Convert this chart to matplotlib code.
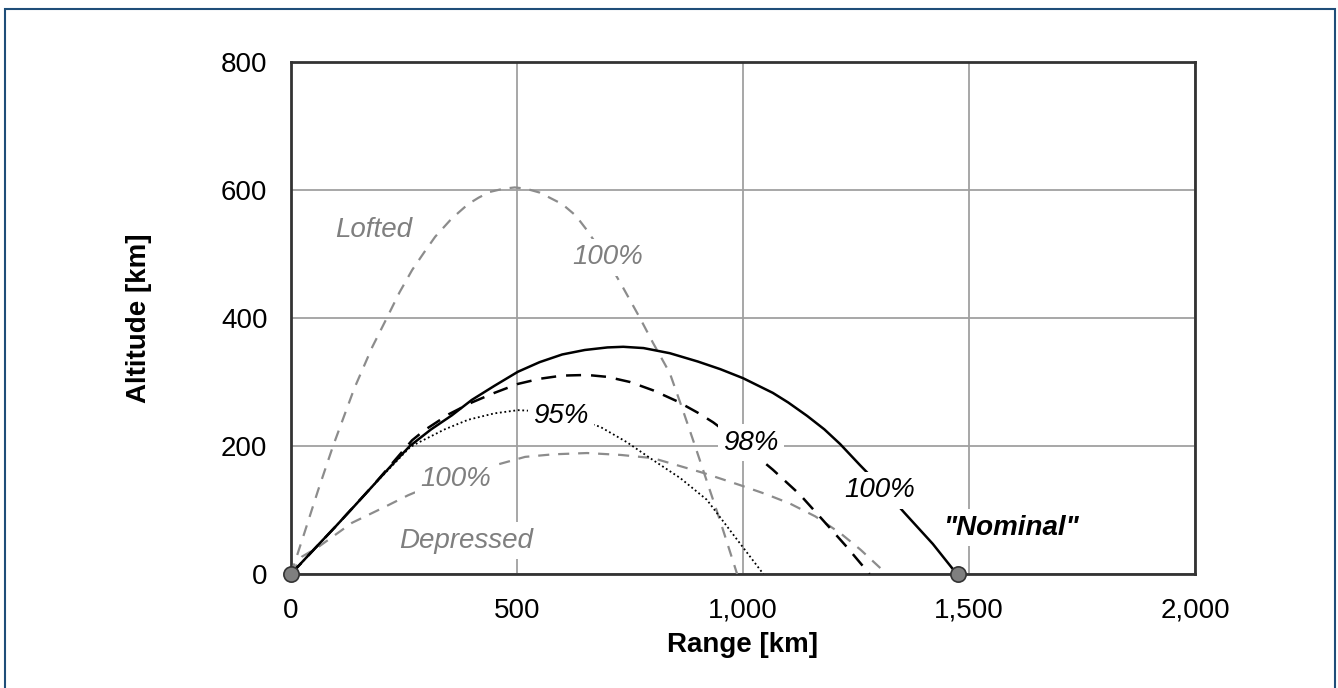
import matplotlib
matplotlib.use("Agg")
import matplotlib.pyplot as plt
from matplotlib.patches import Rectangle

plt.rcParams['font.family'] = ['Liberation Sans', 'DejaVu Sans']

# trajectories: range [km], altitude [km]
nominal_x = [0, 50, 97, 140, 180, 220, 263, 310, 356, 400, 450, 502, 550, 600, 650, 700,
             735, 780, 838, 900, 950, 1000, 1066, 1100, 1142, 1180, 1215, 1259, 1310,
             1358, 1420, 1473]
nominal_y = [0, 38, 73, 106, 137, 168, 200, 226, 248, 272, 294, 316, 331, 343, 350, 354,
             355, 353, 345, 332, 320, 306, 283, 268, 247, 226, 203, 170, 133,
             95, 47, 0]

p98_x = [0, 97, 180, 268, 296, 350, 400, 450, 502, 550, 600, 655, 700, 750, 801, 854,
         900, 934, 1000, 1066, 1126, 1177, 1230, 1280]
p98_y = [0, 73, 137, 209, 225, 250, 268, 283, 297, 305, 310, 311, 308, 300, 287, 270,
         252, 237, 202, 163, 124, 84, 42, 0]

p95_x = [0, 97, 180, 263, 281, 340, 392, 450, 502, 560, 620, 684, 743, 801, 861, 920,
         978, 1045]
p95_y = [0, 73, 137, 198, 205, 226, 241, 251, 256, 254, 244, 230, 206, 178, 150, 116,
         62, 0]

lofted_x = [0, 30, 60, 93, 140, 180, 212, 240, 268, 295, 319, 355, 392, 415, 440, 470,
            495, 520, 550, 600, 630, 655, 700, 735, 772, 801, 838, 866, 894, 920, 949, 987]
lofted_y = [0, 65, 131, 200, 290, 355, 400, 440, 475, 503, 527, 555, 578, 588, 597, 602,
            604, 602, 596, 578, 560, 537, 490, 447, 400, 361, 314, 258, 200, 145, 84, 0]

depressed_x = [0, 24, 60, 135, 208, 259, 350, 467, 518, 580, 655, 730, 801, 912, 993,
               1050, 1104, 1160, 1215, 1260, 1318]
depressed_y = [0, 27, 42, 80, 105, 123, 150, 173, 183, 187, 189, 186, 181, 158, 139,
               125, 110, 90, 64, 38, 0]

nominal_pts_x = [0, 1475]
nominal_pts_y = [0, 0]

fig = plt.figure(figsize=(13.38, 6.88), dpi=100)
ax = fig.add_axes([0.2175, 0.1657, 0.6756, 0.7442])

grey = '#8c8c8c'
ax.plot(lofted_x, lofted_y, color=grey, lw=1.6, dashes=(5, 4), zorder=3)
ax.plot(depressed_x, depressed_y, color=grey, lw=1.6, dashes=(5, 4), zorder=3)
ax.plot(p95_x, p95_y, color='black', lw=1.3, dashes=(1, 1.5), zorder=4)
ax.plot(p98_x, p98_y, color='black', lw=1.8, dashes=(6, 4), zorder=4)
ax.plot(nominal_x, nominal_y, color='black', lw=1.8, zorder=5)
ax.plot(nominal_pts_x, nominal_pts_y, 'o', ms=11, mfc='#7f7f7f', mec='#333333',
        mew=1.2, ls='none', zorder=7, clip_on=False)

box = dict(facecolor='white', edgecolor='none', pad=4)
txt = dict(fontsize=20, style='italic', ha='center', va='center', zorder=6)
ax.text(182, 538, 'Lofted', color='#7f7f7f', **txt)
ax.text(701, 495, '100%', color='#7f7f7f', bbox=box, **txt)
ax.text(365, 148, '100%', color='#7f7f7f', bbox=box, **txt)
ax.text(387, 52, 'Depressed', color='#7f7f7f', bbox=box, **txt)
ax.text(597, 247, '95%', color='black', bbox=box, **txt)
ax.text(1018, 205, '98%', color='black', bbox=box, **txt)
ax.text(1303, 131, '100%', color='black', bbox=box, **txt)
ax.text(1593, 72, '"Nominal"', color='black', fontweight='bold', bbox=box, **txt)

ax.set_xlim(0, 2000)
ax.set_ylim(0, 800)
ax.set_xticks([0, 500, 1000, 1500, 2000])
ax.set_xticklabels(['0', '500', '1,000', '1,500', '2,000'])
ax.set_yticks([0, 200, 400, 600, 800])
ax.tick_params(length=0, labelsize=20, pad=17)
ax.grid(True, color='#a0a0a0', lw=1.3, zorder=1)
ax.set_axisbelow(True)
for s in ax.spines.values():
    s.set_color('#333333')
    s.set_linewidth(2)

ax.set_xlabel('Range [km]', fontsize=20, fontweight='bold')
ax.set_ylabel('Altitude [km]', fontsize=20, fontweight='bold')
ax.xaxis.set_label_coords(0.5, -0.113)
ax.yaxis.set_label_coords(-0.154, 0.5)

fig.patches.append(Rectangle((5 / 1338, -0.1), 1330 / 1338, 1.1 - 9 / 688,
                             transform=fig.transFigure, fill=False,
                             edgecolor='#1f4e79', lw=1.5))

plt.savefig('out.png', dpi=100)
